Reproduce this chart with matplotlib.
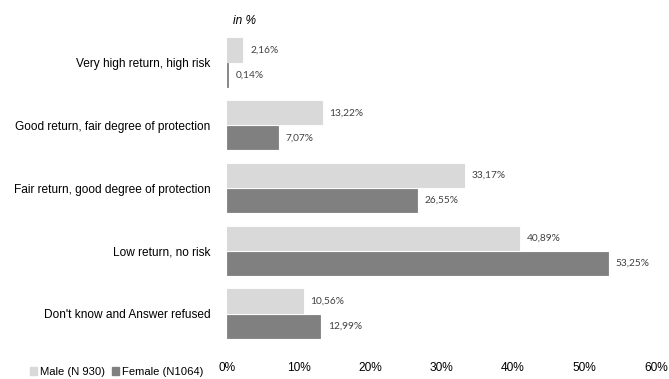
import numpy as np
import matplotlib.pyplot as plt
from matplotlib.patches import Patch

# investment preference by gender, shares in percent
categories = ['Very high return, high risk',
              'Good return, fair degree of protection',
              'Fair return, good degree of protection',
              'Low return, no risk',
              "Don't know and Answer refused"]
male = [2.16, 13.22, 33.17, 40.89, 10.56]
female = [0.14, 7.07, 26.55, 53.25, 12.99]
xticks = [0, 10, 20, 30, 40, 50, 60]

male_color = '#d9d9d9'
female_color = '#808080'

fig = plt.figure(figsize=(6.69, 3.79), dpi=100)
ax = fig.add_axes([0.3393, 0.0897, 0.6413, 0.8283])

y = np.arange(len(categories))
h = 0.4
# thin same-colour edge keeps tiny shares visible; slightly thinner bars leave a white gap
ax.barh(y - h / 2, male, height=h - 0.03, color=male_color, edgecolor=male_color, linewidth=0.8)
ax.barh(y + h / 2, female, height=h - 0.03, color=female_color, edgecolor=female_color,
        linewidth=0.6)

# value labels next to each bar
for yi, m, f in zip(y, male, female):
    ax.text(m + 1.1, yi - h / 2, f'{m:.2f}%'.replace('.', ','), va='center', ha='left',
            fontsize=7.3, family='Lato', color='#404040')
    ax.text(f + 1.1, yi + h / 2, f'{f:.2f}%'.replace('.', ','), va='center', ha='left',
            fontsize=7.3, family='Lato', color='#404040')

ax.set_xlim(0, 60)
ax.set_ylim(len(categories) - 0.5, -0.5)
ax.set_yticks(y)
ax.set_yticklabels(categories, family='Liberation Sans', fontsize=8.6)
ax.set_xticks(xticks)
ax.set_xticklabels([f'{t}%' for t in xticks], family='Liberation Sans', fontsize=8.6)
ax.tick_params(axis='both', length=0, colors='#000000')
ax.tick_params(axis='x', pad=12)
ax.tick_params(axis='y', pad=12)
for s in ax.spines.values():
    s.set_visible(False)

fig.text(233 / 669, 1 - 21 / 379, 'in %', style='italic', family='Liberation Sans',
         fontsize=8.6, va='center', ha='left')

handles = [Patch(color=male_color, label='Male (N 930)'),
           Patch(color=female_color, label='Female (N1064)')]
fig.legend(handles=handles, loc='center left', bbox_to_anchor=(0.03, 1 - 372 / 379),
           ncol=2, frameon=False, handlelength=0.6, handleheight=0.6, handletextpad=0.3,
           columnspacing=0.6, prop={'family': 'Liberation Sans', 'size': 8.1})

fig.savefig('out.png', dpi=100)
